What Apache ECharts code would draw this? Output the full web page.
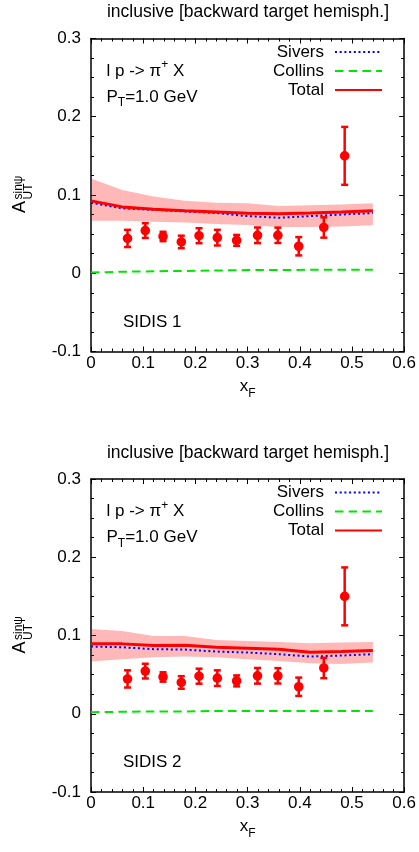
<!DOCTYPE html>
<html>
<head>
<meta charset="utf-8">
<script src="https://cdn.jsdelivr.net/npm/echarts@6/dist/echarts.min.js"></script>
<style>
html,body{margin:0;padding:0;background:#fff;}
#c{width:419px;height:852px;}
</style>
</head>
<body>
<div id="c"></div>
<script>
// ---------- data ----------
const xCurve = [0, 0.06, 0.12, 0.18, 0.24, 0.30, 0.36, 0.42, 0.48, 0.54];

const sivers1  = [0.090, 0.083, 0.081, 0.079, 0.077, 0.073, 0.071, 0.073, 0.075, 0.077];
const collins1 = [0.001, 0.002, 0.0025, 0.003, 0.0035, 0.004, 0.004, 0.0045, 0.0045, 0.0045];
const total1   = [0.0925, 0.0848, 0.0818, 0.080, 0.0784, 0.0767, 0.0759, 0.0771, 0.0784, 0.080];
const bandHi1  = [0.121, 0.1065, 0.098, 0.0925, 0.090, 0.0895, 0.086, 0.087, 0.088, 0.0895];
const bandLo1  = [0.067, 0.067, 0.0657, 0.0648, 0.063, 0.0618, 0.059, 0.059, 0.0597, 0.0614];

const sivers2  = [0.0859, 0.085, 0.0825, 0.082, 0.0795, 0.0782, 0.0761, 0.0731, 0.0744, 0.0761];
const collins2 = [0.002, 0.0025, 0.003, 0.003, 0.0035, 0.0035, 0.0035, 0.0035, 0.0035, 0.0035];
const total2   = [0.0893, 0.0893, 0.0871, 0.0876, 0.085, 0.0838, 0.0825, 0.0787, 0.0795, 0.0808];
const bandHi2  = [0.1084, 0.1059, 0.0995, 0.0995, 0.0944, 0.0931, 0.0918, 0.0901, 0.091, 0.0918];
const bandLo2  = [0.0667, 0.0697, 0.0722, 0.0731, 0.0722, 0.0697, 0.0674, 0.0646, 0.0637, 0.0654];

const dataX   = [0.070, 0.104, 0.138, 0.173, 0.207, 0.242, 0.279, 0.319, 0.358, 0.398, 0.446, 0.486];
const dataY   = [0.0445, 0.0545, 0.047, 0.040, 0.048, 0.0455, 0.042, 0.0485, 0.0485, 0.0345, 0.0585, 0.150];
const dataErr = [0.011, 0.0094, 0.006, 0.008, 0.0096, 0.010, 0.007, 0.010, 0.0098, 0.0117, 0.013, 0.037];

const xTicks = [0, 0.1, 0.2, 0.3, 0.4, 0.5, 0.6];
const yTicks = [-0.1, 0, 0.1, 0.2, 0.3];

const titleText = 'inclusive [backward target hemisph.]';
const panelLabels = ['SIDIS 1', 'SIDIS 2'];
const legendNames = ['Sivers', 'Collins', 'Total'];

// ---------- styling ----------
const FONT = '"Liberation Sans", Arial, Helvetica, sans-serif';
const FS = 17;
const PANEL_DY = 440.5;
const grids = [
  {left: 91, top: 38.5, width: 314, height: 313},
  {left: 91, top: 38.5 + PANEL_DY, width: 314, height: 313}
];

const fmt = v => String(Math.round(v * 10) / 10);

function xAxes(g) {
  const common = {
    gridIndex: g, type: 'value', min: xTicks[0], max: xTicks[xTicks.length - 1], interval: 0.1,
    axisLine: {onZero: false, lineStyle: {color: '#000', width: 1.5}},
    axisTick: {inside: true, length: 5, lineStyle: {color: '#000', width: 1}},
    minorTick: {show: true, splitNumber: 5, length: 3, lineStyle: {color: '#000', width: 1}},
    splitLine: {show: false}, minorSplitLine: {show: false}
  };
  return [
    Object.assign({}, common, {
      position: 'bottom',
      axisLabel: {color: '#000', fontSize: FS, fontFamily: FONT, margin: 3, formatter: fmt},
      name: '{m|x}{s|F}', nameLocation: 'middle', nameGap: 26,
      nameTextStyle: {rich: {
        m: {fontSize: FS, fontFamily: FONT, color: '#000', lineHeight: 22, verticalAlign: 'top'},
        s: {fontSize: 12, fontFamily: FONT, color: '#000', lineHeight: 12, verticalAlign: 'bottom'}
      }}
    }),
    Object.assign({}, common, {position: 'top', axisLabel: {show: false}})
  ];
}
function yAxes(g) {
  const common = {
    gridIndex: g, type: 'value', min: yTicks[0], max: yTicks[yTicks.length - 1], interval: 0.1,
    axisLine: {onZero: false, lineStyle: {color: '#000', width: 1.5}},
    axisTick: {inside: true, length: 5, lineStyle: {color: '#000', width: 1}},
    minorTick: {show: true, splitNumber: 4, length: 3, lineStyle: {color: '#000', width: 1}},
    splitLine: {show: false}, minorSplitLine: {show: false}
  };
  return [
    Object.assign({}, common, {
      position: 'left',
      axisLabel: {color: '#000', fontSize: FS, fontFamily: FONT, margin: 10, formatter: fmt}
    }),
    Object.assign({}, common, {position: 'right', axisLabel: {show: false}})
  ];
}

const panels = [
  {sivers: sivers1, collins: collins1, total: total1, hi: bandHi1, lo: bandLo1},
  {sivers: sivers2, collins: collins2, total: total2, hi: bandHi2, lo: bandLo2}
];

const series = [];
panels.forEach((p, g) => {
  const xi = g * 2, yi = g * 2;
  // uncertainty band, one quad per segment
  series.push({
    type: 'custom', xAxisIndex: xi, yAxisIndex: yi, z: 1, silent: true,
    data: xCurve.map((x, i) => [x, p.lo[i], p.hi[i]]),
    renderItem: function (params, api) {
      const i = params.dataIndex;
      if (i >= xCurve.length - 1) return null;
      const pts = [
        api.coord([xCurve[i], p.lo[i]]),
        api.coord([xCurve[i + 1], p.lo[i + 1]]),
        api.coord([xCurve[i + 1], p.hi[i + 1]]),
        api.coord([xCurve[i], p.hi[i]])
      ];
      return {type: 'polygon', shape: {points: pts}, style: {fill: 'rgba(255,0,0,0.28)'}};
    }
  });
  series.push({
    name: 'Sivers', type: 'line', xAxisIndex: xi, yAxisIndex: yi, z: 2,
    data: xCurve.map((x, i) => [x, p.sivers[i]]), symbol: 'none', smooth: false,
    lineStyle: {color: '#0000ff', width: 2, type: [2, 2.7]}, itemStyle: {color: '#0000ff'}
  });
  series.push({
    name: 'Collins', type: 'line', xAxisIndex: xi, yAxisIndex: yi, z: 3,
    data: xCurve.map((x, i) => [x, p.collins[i]]), symbol: 'none',
    lineStyle: {color: '#00e600', width: 2, type: [8.5, 5.2]}, itemStyle: {color: '#00e600'}
  });
  series.push({
    name: 'Total', type: 'line', xAxisIndex: xi, yAxisIndex: yi, z: 4,
    data: xCurve.map((x, i) => [x, p.total[i]]), symbol: 'none',
    lineStyle: {color: '#ff0000', width: 3}, itemStyle: {color: '#ff0000'}
  });
  // data points with error bars
  series.push({
    type: 'custom', xAxisIndex: xi, yAxisIndex: yi, z: 5, silent: true,
    data: dataX.map((x, i) => [x, dataY[i], dataErr[i]]),
    renderItem: function (params, api) {
      const x = api.value(0), y = api.value(1), e = api.value(2);
      const c = api.coord([x, y]);
      const lo = api.coord([x, y - e]);
      const hi = api.coord([x, y + e]);
      const cw = 3.5;
      const st = {stroke: '#ff0000', lineWidth: 2.5};
      return {type: 'group', children: [
        {type: 'line', shape: {x1: c[0], y1: lo[1], x2: c[0], y2: hi[1]}, style: st},
        {type: 'line', shape: {x1: c[0] - cw, y1: lo[1], x2: c[0] + cw, y2: lo[1]}, style: st},
        {type: 'line', shape: {x1: c[0] - cw, y1: hi[1], x2: c[0] + cw, y2: hi[1]}, style: st},
        {type: 'circle', shape: {cx: c[0], cy: c[1], r: 4.8}, style: {fill: '#ff0000'}}
      ]};
    }
  });
});

function legendFor(g) {
  return {
    data: legendNames, orient: 'vertical', align: 'right', right: 36, top: 42.5 + g * PANEL_DY,
    padding: 0, itemGap: 0, itemWidth: 47, itemHeight: 10, selectedMode: false,
    itemStyle: {opacity: 0, color: 'rgba(0,0,0,0)', borderWidth: 0},
    textStyle: {fontSize: FS, fontFamily: FONT, color: '#000', lineHeight: 19,
      width: 70, align: 'right', padding: [0, 6, 0, 0]}
  };
}

const richMain = {
  m: {fontSize: FS, fontFamily: FONT, color: '#000', lineHeight: 24},
  sup: {fontSize: 12, fontFamily: FONT, color: '#000', lineHeight: 14, verticalAlign: 'top'},
  sub: {fontSize: 12, fontFamily: FONT, color: '#000', lineHeight: 14, verticalAlign: 'bottom'}
};

const graphics = [];
[0, 1].forEach(g => {
  const dy = g * PANEL_DY;
  graphics.push({type: 'text', x: 248, y: 12.5 + dy, silent: true,
    style: {text: titleText, font: '17.5px ' + FONT, fill: '#000', align: 'center', verticalAlign: 'middle'}});
  graphics.push({type: 'text', x: 106.5, y: 71 + dy, silent: true,
    style: {text: '{m|l p -> π}{sup|+}{m| X}', rich: richMain, verticalAlign: 'middle', align: 'left'}});
  graphics.push({type: 'text', x: 106.5, y: 97 + dy, silent: true,
    style: {text: '{m|P}{sub|T}{m|=1.0 GeV}', rich: richMain, verticalAlign: 'middle', align: 'left'}});
  graphics.push({type: 'text', x: 123, y: 322 + dy, silent: true,
    style: {text: panelLabels[g], font: FS + 'px ' + FONT, fill: '#000', verticalAlign: 'middle', align: 'left'}});
  // y axis title A_UT^{sin psi}, rotated
  graphics.push({type: 'group', x: 20.5, y: 213 + dy, rotation: Math.PI / 2, silent: true, children: [
    {type: 'text', x: 0, y: 0, style: {text: 'A', font: '18px ' + FONT, fill: '#000', align: 'left', verticalAlign: 'middle'}},
    {type: 'text', x: 13.5, y: 8, style: {text: 'UT', font: '12px ' + FONT, fill: '#000', align: 'left', verticalAlign: 'middle'}},
    {type: 'text', x: 13.5, y: -2, style: {text: 'sinψ', font: '12px ' + FONT, fill: '#000', align: 'left', verticalAlign: 'middle'}}
  ]});
});

const chart = echarts.init(document.getElementById('c'), null, {renderer: 'canvas'});
chart.setOption({
  animation: false,
  backgroundColor: '#fff',
  grid: grids,
  xAxis: xAxes(0).concat(xAxes(1)),
  yAxis: yAxes(0).concat(yAxes(1)),
  legend: [legendFor(0), legendFor(1)],
  series: series,
  graphic: graphics
});
</script>
</body>
</html>
